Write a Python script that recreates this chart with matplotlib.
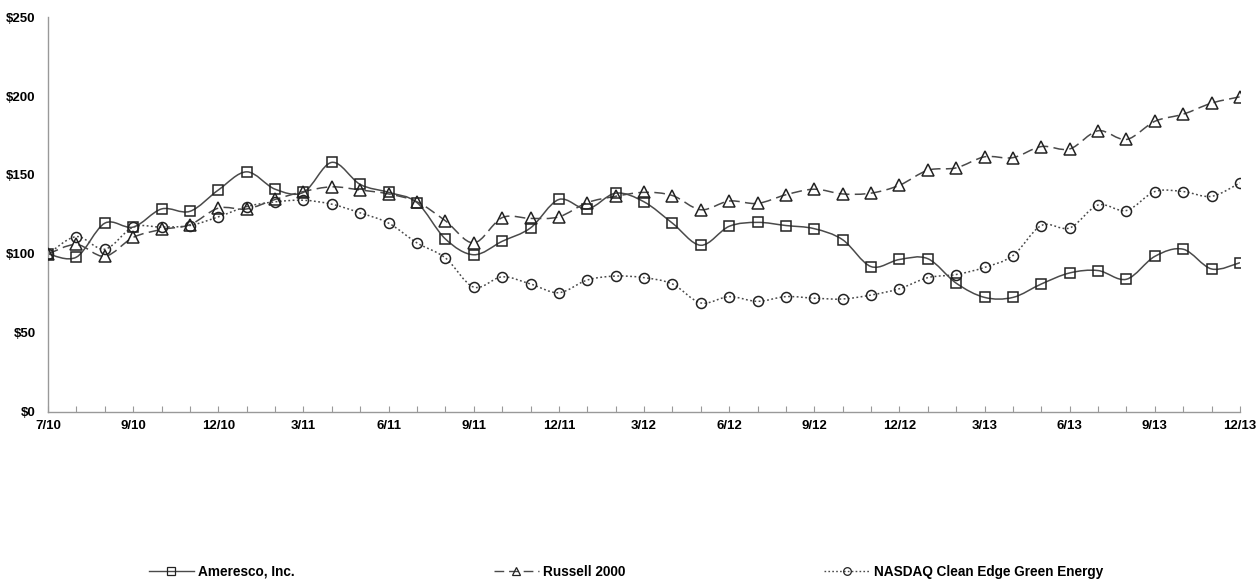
import numpy as np
import matplotlib
matplotlib.use("Agg")
import matplotlib.pyplot as plt
from matplotlib.path import Path
from matplotlib.patches import PathPatch
from matplotlib.lines import Line2D

# Monthly points, 7/10 (IPO) through 12/13
n_points = 43
tick_labels = ["7/10", "9/10", "12/10", "3/11", "6/11", "9/11", "12/11", "3/12",
               "6/12", "9/12", "12/12", "3/13", "6/13", "9/13", "12/13"]
tick_pos = [0] + list(range(3, 43, 3))

ameresco = [100, 98, 119.5, 117, 128.5, 127, 140.5, 152, 141, 139,
            158, 144, 139, 132.5, 109.5, 99.5, 108, 116.5, 134.5, 128.5,
            138.5, 133, 119.5, 105.5, 117.5, 120, 118, 116, 109, 92,
            96.5, 97, 81.5, 72.5, 72.5, 81, 88, 89.5, 84, 98.5,
            103, 90.5, 94.5]
russell = [100, 106, 98.5, 110.5, 115.5, 118.5, 129, 128.5, 134.5, 139.5,
           142.5, 140.5, 138, 133, 121, 107, 123, 122.5, 123.5, 132.5,
           136.5, 139, 137, 128, 133.5, 132, 137.5, 141, 138, 138.5,
           143.5, 153, 154.5, 161.5, 161, 168, 166.5, 178, 172.5, 184,
           188.5, 195.5, 199.5]
nasdaq = [100, 111, 103, 117, 117, 118, 123.5, 130, 133, 134,
          131.5, 126, 119.5, 107, 97.5, 79, 85.5, 81, 75.5, 83.5,
          86, 85, 81, 69, 73, 70, 73, 72, 71.5, 74,
          78, 85, 87, 91.5, 99, 118, 116.5, 131, 127.5, 139.5,
          139.5, 136.5, 145]

names = ["Ameresco, Inc.", "Russell 2000", "NASDAQ Clean Edge Green Energy"]

line_col = "#4a4a4a"
styles = [
    dict(values=ameresco, marker="s", ms=7.8, dashes=None),
    dict(values=russell, marker="^", ms=8.2, dashes=(7, 3.5)),
    dict(values=nasdaq, marker="o", ms=7.2, dashes=(1.2, 1.6)),
]


def smooth_path(x, y):
    # Catmull-Rom through the points, handed to matplotlib as cubic Bezier segments
    x = np.asarray(x, float)
    y = np.asarray(y, float)
    px = np.concatenate([[x[0]], x, [x[-1]]])
    py = np.concatenate([[y[0]], y, [y[-1]]])
    verts = [(x[0], y[0])]
    codes = [Path.MOVETO]
    for i in range(1, len(px) - 2):
        c1 = (px[i] + (px[i + 1] - px[i - 1]) / 6, py[i] + (py[i + 1] - py[i - 1]) / 6)
        c2 = (px[i + 1] - (px[i + 2] - px[i]) / 6, py[i + 1] - (py[i + 2] - py[i]) / 6)
        verts += [c1, c2, (px[i + 1], py[i + 1])]
        codes += [Path.CURVE4] * 3
    return Path(verts, codes)


plt.rcParams["font.family"] = ["Liberation Sans", "DejaVu Sans"]

fig = plt.figure(figsize=(12.58, 5.81), dpi=100)
ax = fig.add_axes([0.0382, 0.291, 0.9475, 0.6797])

x = np.arange(n_points)
handles = []
for st, name in zip(styles, names):
    patch = PathPatch(smooth_path(x, st["values"]), facecolor="none",
                      edgecolor=line_col, lw=1.1, zorder=2)
    if st["dashes"] is not None:
        patch.set_linestyle((0, st["dashes"]))
    ax.add_patch(patch)
    ax.plot(x, st["values"], linestyle="none", marker=st["marker"], ms=st["ms"],
            mfc="none", mec="#222222", mew=1.1, zorder=3)
    h = Line2D([], [], color=line_col, lw=1.0, marker=st["marker"], ms=5.5,
               mfc="none", mec="#222222", mew=0.9)
    if st["dashes"] is not None:
        h.set_dashes(st["dashes"])
    handles.append(h)

ax.set_xlim(0, n_points - 1)
ax.set_ylim(0, 250)
ax.set_yticks([0, 50, 100, 150, 200, 250])
ax.set_yticklabels(["$0", "$50", "$100", "$150", "$200", "$250"], fontweight="bold")
ax.set_xticks(np.arange(n_points))
ax.set_xticklabels([tick_labels[tick_pos.index(i)] if i in tick_pos else "" for i in range(n_points)],
                   fontweight="bold")
ax.tick_params(axis="x", direction="in", length=4, width=0.8, color="#999999",
               pad=6, labelsize=9.5)
ax.tick_params(axis="y", length=0, pad=9, labelsize=9.5)

for s in ["top", "right"]:
    ax.spines[s].set_visible(False)
for s in ["left", "bottom"]:
    ax.spines[s].set_color("#999999")
    ax.spines[s].set_linewidth(1.0)

fig.legend(handles, names, loc="center", bbox_to_anchor=(0.4976, 0.016), ncol=3,
           frameon=False, handlelength=3.3, handletextpad=0.35, columnspacing=14.6,
           prop=dict(family=["Liberation Sans Narrow", "Liberation Sans"], weight="bold", size=9.8))

fig.savefig("out.png", dpi=100)
